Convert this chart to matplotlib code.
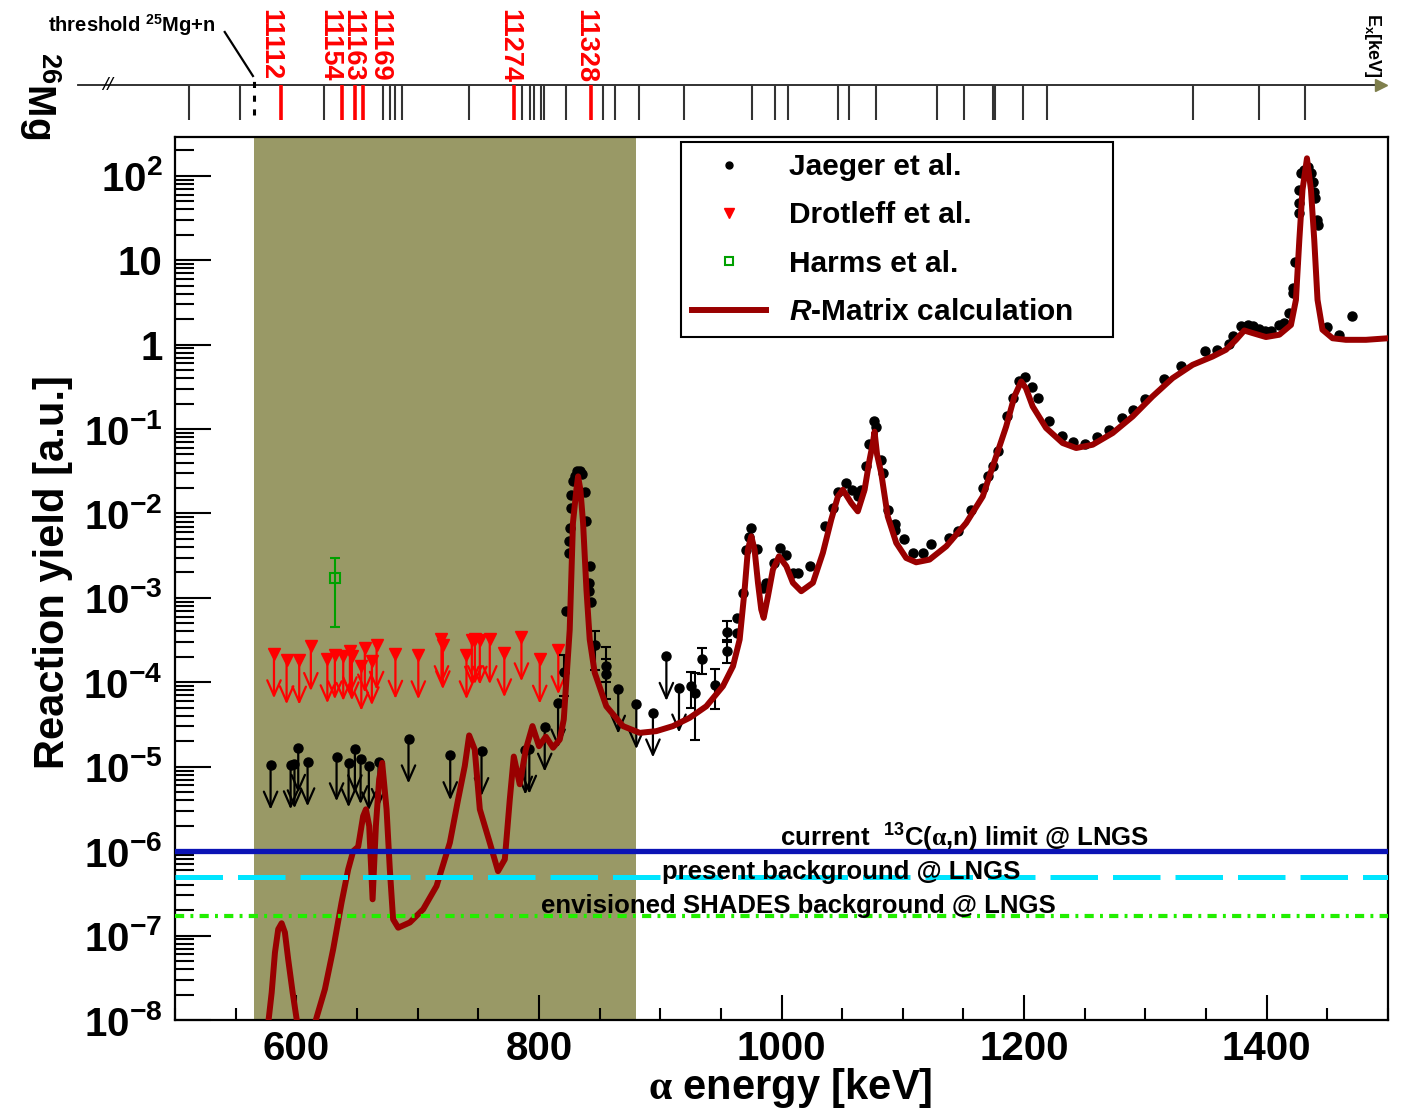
import numpy as np
import matplotlib
matplotlib.use("Agg")
import matplotlib.pyplot as plt
from matplotlib.lines import Line2D
from matplotlib.ticker import FixedLocator, FixedFormatter, MultipleLocator, NullFormatter

plt.rcParams['font.family'] = ['Liberation Sans', 'DejaVu Sans']
plt.rcParams['font.weight'] = 'bold'
plt.rcParams['axes.labelweight'] = 'bold'
plt.rcParams['mathtext.fontset'] = 'custom'
plt.rcParams['mathtext.rm'] = 'Liberation Serif'
plt.rcParams['mathtext.bf'] = 'Liberation Sans:bold'
plt.rcParams['mathtext.it'] = 'Liberation Sans:bold:italic'
plt.rcParams['mathtext.sf'] = 'Liberation Sans:bold'
plt.rcParams['mathtext.default'] = 'bf'

# ---------------- data ----------------
# Jaeger et al. (measured points)
jaeger_E = [822.7, 824.6, 825.0, 825.4, 826.2, 826.8, 828.1, 829.5, 831.8, 833.7, 835.3, 837.8,
            839.2, 841.3, 841.5, 841.9, 842.7,
            963.3, 963.0, 968.2, 970.4, 973.1, 974.5, 979.7, 984.7, 987.5, 993.7, 998.4, 1003.9,
            1009.4, 1013.5, 1023.1, 1035.9, 1042.1, 1046.5, 1052.8, 1058.0, 1062.9, 1065.7,
            1069.9, 1072.0, 1076.0, 1077.5, 1082.2, 1083.5, 1088.2, 1093.6, 1093.2, 1101.4,
            1108.3, 1116.5, 1123.4, 1137.9, 1145.3, 1156.4, 1165.9, 1170.0, 1174.2, 1178.3,
            1185.7, 1190.6, 1196.1, 1201.1, 1206.6, 1211.2, 1220.9, 1231.3, 1240.6, 1250.5,
            1260.2, 1270.3, 1280.4, 1290.1, 1299.7, 1315.0, 1329.4, 1349.4, 1359.0, 1368.6,
            1372.4, 1378.8, 1384.3, 1388.9, 1393.9, 1398.8, 1403.5, 1410.3, 1413.9, 1418.0,
            1421.3, 1421.9, 1423.5, 1426.3, 1426.5, 1426.9, 1428.2, 1431.0, 1433.7, 1436.5,
            1437.8, 1439.2, 1440.0, 1441.1, 1441.9, 1450.1, 1459.2, 1470.2]
jaeger_Y = [7.07e-4, 3.41e-3, 4.68e-3, 6.8e-3, 1.17e-2, 1.67e-2, 2.40e-2, 2.8e-2, 3.15e-2, 3.15e-2,
            2.96e-2, 1.82e-2, 8.15e-3, 1.51e-3, 1.20e-3, 2.37e-3, 9.0e-4,
            5.8e-4, 3.79e-4, 1.15e-3, 3.66e-3, 5.2e-3, 6.7e-3, 3.83e-3, 1.31e-3, 1.51e-3, 2.6e-3,
            3.9e-3, 3.25e-3, 1.98e-3, 1.98e-3, 2.37e-3, 7.2e-3, 1.16e-2, 1.82e-2, 2.30e-2,
            1.91e-2, 1.59e-2, 1.91e-2, 3.68e-2, 6.7e-2, 0.125, 0.106, 4.33e-2, 3.0e-2, 1.11e-2,
            7.6e-3, 6.3e-3, 4.99e-3, 3.40e-3, 3.40e-3, 4.39e-3, 5.13e-3, 6.26e-3, 1.11e-2,
            2.0e-2, 2.75e-2, 3.61e-2, 5.43e-2, 0.141, 0.233, 0.366, 0.412, 0.319, 0.233, 0.123,
            0.0817, 0.0694, 0.0670, 0.0796, 0.0964, 0.135, 0.166, 0.226, 0.391, 0.561, 0.830,
            0.869, 1.02, 1.27, 1.67, 1.70, 1.64, 1.53, 1.47, 1.47, 1.71, 1.82, 2.40, 4.07, 4.66,
            9.6, 36.0, 47.2, 67.9, 107.0, 117.0, 128.0, 107.0, 85.0, 64.8, 54.2, 30.0, 26.2,
            1.61, 1.31, 2.19]

# Jaeger et al. (points with error bars)
jaeger_err_E = [820.5, 846.0, 855.6, 855.6, 925.1, 929.0, 934.7, 944.9, 955.0, 955.0]
jaeger_err_Y = [1.32e-4, 2.75e-4, 1.56e-4, 1.25e-4, 9.0e-5, 7.5e-5, 1.90e-4, 9.4e-5, 3.96e-4, 2.38e-4]
jaeger_err_hi = [2.13e-4, 4.0e-4, 2.6e-4, 1.9e-4, 1.33e-4, 1.3e-4, 2.58e-4, 1.42e-4, 5.3e-4, 3.2e-4]
jaeger_err_lo = [6.8e-5, 1.4e-4, 1.0e-4, 6.3e-5, 5.0e-5, 2.1e-5, 1.24e-4, 4.8e-5, 3.0e-4, 1.71e-4]

# Jaeger et al. (upper limits)
jaeger_lim_E = [578.8, 595.3, 598.5, 601.6, 609.3, 633.2, 643.1, 648.3, 653.0, 659.8, 667.8,
                692.5, 726.9, 752.7, 788.8, 792.1, 804.8, 815.8, 865.4, 880.3, 894.0, 905.1, 915.5]
jaeger_lim_Y = [1.05e-5, 1.06e-5, 1.09e-5, 1.66e-5, 1.15e-5, 1.32e-5, 1.12e-5, 1.64e-5, 1.22e-5,
                1.03e-5, 1.13e-5, 2.15e-5, 1.36e-5, 1.52e-5, 1.58e-5, 1.62e-5, 2.96e-5, 5.72e-5,
                8.33e-5, 5.47e-5, 4.36e-5, 2.04e-4, 8.6e-5]

# Drotleff et al. (upper limits)
drotleff_E = [581.6, 592.0, 602.4, 612.0, 625.6, 631.8, 638.7, 644.2, 645.8, 653.6, 656.5, 662.3,
              666.2, 681.7, 700.6, 719.7, 720.8, 740.3, 744.7, 747.2, 751.3, 759.5, 771.5, 785.6,
              800.7, 816.0]
drotleff_Y = [2.19e-4, 1.86e-4, 1.84e-4, 2.67e-4, 1.91e-4, 2.13e-4, 2.04e-4, 2.38e-4, 2.07e-4,
              1.56e-4, 2.56e-4, 1.81e-4, 2.76e-4, 2.16e-4, 2.13e-4, 3.22e-4, 2.80e-4, 2.13e-4,
              3.17e-4, 3.22e-4, 3.17e-4, 3.22e-4, 2.25e-4, 3.48e-4, 1.89e-4, 2.44e-4]

# Harms et al.
harms_E = [631.8]
harms_Y = [1.74e-3]
harms_hi = [3.0e-3]
harms_lo = [4.46e-4]

# R-Matrix calculation
rmatrix_E = [574.1, 576.9, 579.7, 582.4, 585.1, 587.9, 590.6, 593.3, 597.0, 600.3, 607.1, 616.7,
             623.6, 630.4, 637.3, 642.8, 646.9, 651.0, 655.1, 657.4, 660.1, 662.9, 665.6, 668.3,
             670.8, 674.4, 677.1, 679.8, 684.0, 693.6, 704.6, 715.6, 726.6, 733.4, 738.9, 742.5,
             747.1, 751.3, 759.5, 766.3, 771.9, 776.0, 779.3, 784.2, 789.2, 794.7, 800.1, 805.7,
             811.7, 817.2, 820.5, 823.2, 825.4, 828.1, 830.9, 832.3, 834.2, 836.4, 839.2, 841.9,
             846.0, 855.6, 869.3, 883.1, 896.8, 910.5, 924.3, 938.0, 951.7, 960.0, 965.5, 969.6,
             972.3, 975.1, 977.8, 980.6, 983.3, 985.3, 988.8, 992.9, 997.9, 1004.0, 1009.4,
             1016.3, 1025.9, 1034.1, 1041.0, 1046.5, 1050.6, 1057.5, 1062.9, 1068.5, 1072.6,
             1075.3, 1076.7, 1078.8, 1082.2, 1087.6, 1094.6, 1102.8, 1111.0, 1122.0, 1135.8,
             1152.2, 1165.9, 1171.4, 1185.2, 1192.0, 1197.6, 1201.5, 1207.1, 1218.1, 1231.8,
             1242.9, 1256.5,
             1273.0, 1289.5, 1305.8, 1322.4, 1338.9, 1355.4, 1366.4, 1374.7, 1381.5, 1388.4,
             1399.4, 1410.4, 1420.0, 1424.1, 1426.9, 1429.5, 1433.2, 1436.5, 1439.2, 1441.9,
             1446.0, 1454.3, 1465.3, 1481.8, 1500.0]
rmatrix_Y = [3.4e-9, 9.3e-9, 2.11e-8, 6.29e-8, 1.19e-7, 1.40e-7, 1.09e-7, 5.25e-8, 2.11e-8, 1.02e-8,
             3.4e-9, 1.07e-8, 2.32e-8, 6.89e-8, 2.46e-7, 6.1e-7, 1.00e-6, 1.13e-6, 2.6e-6, 3.13e-6,
             1.98e-6, 2.69e-7, 1.98e-6, 7.08e-6, 1.11e-5, 3.13e-6, 6.1e-7, 1.56e-7, 1.24e-7,
             1.43e-7, 2.05e-7, 3.86e-7, 1.26e-6, 4.1e-6, 1.02e-5, 2.35e-5, 1.60e-5, 3.13e-6,
             1.26e-6, 5.8e-7, 8.0e-7, 4.1e-6, 1.32e-5, 6.2e-6, 1.60e-5, 3.03e-5, 1.75e-5, 2.27e-5,
             1.68e-5, 2.10e-5, 3.63e-5, 1.42e-4, 4.2e-4, 7.8e-3, 1.91e-2, 2.75e-2, 1.91e-2, 7.8e-3,
             1.25e-3, 3.21e-4, 1.30e-4, 5.2e-5, 3.03e-5, 2.52e-5, 2.64e-5, 3.03e-5, 3.80e-5,
             5.2e-5, 9.0e-5, 1.55e-4, 3.21e-4, 1.25e-3, 3.73e-3, 5.36e-3, 3.73e-3, 1.51e-3,
             7.3e-4, 5.8e-4, 1.04e-3, 2.16e-3, 3.11e-3, 2.37e-3, 1.51e-3, 1.20e-3, 1.51e-3,
             3.41e-3, 8.45e-3, 1.59e-2, 1.91e-2, 1.33e-2, 1.06e-2, 1.91e-2, 4.33e-2, 6.8e-2,
             9.3e-2, 4.97e-2, 3.01e-2, 9.2e-3, 4.48e-3, 2.97e-3, 2.64e-3, 2.84e-3, 4.08e-3,
             7.7e-3, 1.59e-2, 2.75e-2, 0.107, 0.243, 0.366, 0.305, 0.185, 0.103, 0.0683,
             0.0596, 0.0652,
             0.0897, 0.141, 0.243, 0.401, 0.576, 0.723, 0.869, 1.14, 1.47, 1.37, 1.23, 1.31,
             1.71, 3.39, 17.4, 67.9, 161.0, 67.9, 17.4, 3.39, 1.50, 1.19, 1.14, 1.14, 1.19]

# Background / sensitivity levels
current_limit = 1.0e-6
present_bkg = 5.0e-7
shades_bkg = 1.7e-7
shade_range = (565.0, 880.0)

# 26Mg level scheme (Ex in keV)
Q_alpha = 10614.78
mass_factor = (21.9914 + 4.0026) / 21.9914
threshold_Ex = 11093.0
levels_red = [11112, 11154, 11163, 11169, 11274, 11328]
levels_black = [11047.8, 11083.4, 11141.6, 11183, 11188, 11191, 11196.3, 11243, 11280, 11285.3,
                11288.2, 11293.1, 11295.5, 11310.6, 11336.5, 11344.4, 11361.5, 11392.6, 11440,
                11456, 11465, 11500, 11508, 11527, 11569, 11588, 11608, 11610, 11629, 11646,
                11748, 11794, 11826]
label_offsets = [-9, -10.5, -1.5, 13.5, -4, -5]

x_ticks = [600, 800, 1000, 1200, 1400]
y_ticks = [1e-8, 1e-7, 1e-6, 1e-5, 1e-4, 1e-3, 1e-2, 1e-1, 1, 10, 100]
y_ticklabels = [r'$10^{-8}$', r'$10^{-7}$', r'$10^{-6}$', r'$10^{-5}$', r'$10^{-4}$',
                r'$10^{-3}$', r'$10^{-2}$', r'$10^{-1}$', '1', '10', r'$10^{2}$']

def ex_to_ealpha(ex):
    return (np.asarray(ex, dtype=float) - Q_alpha) * mass_factor

# ---------------- figure ----------------
fig = plt.figure(figsize=(14.08, 11.13), dpi=100)
L, W = 175 / 1408, 1213 / 1408
ax = fig.add_axes([L, 93 / 1113, W, 883 / 1113])
ax.set_yscale('log')
ax.set_xlim(500, 1500)
ax.set_ylim(1e-8, 288)

ax.axvspan(*shade_range, color='#999966', lw=0, zorder=0)

ARROW_F = 10 ** 0.53
arrow_kw = dict(arrowstyle='->,head_length=0.5,head_width=0.22', lw=1.6,
                shrinkA=0, shrinkB=0, mutation_scale=22)

# Drotleff upper limits
for e, y in zip(drotleff_E, drotleff_Y):
    ax.annotate('', xy=(e, y / ARROW_F), xytext=(e, y),
                arrowprops=dict(color='red', **arrow_kw), zorder=4)
ax.plot(drotleff_E, drotleff_Y, ls='none', marker='v', color='red', ms=9, zorder=5)

# Jaeger upper limits
for e, y in zip(jaeger_lim_E, jaeger_lim_Y):
    ax.annotate('', xy=(e, y / ARROW_F), xytext=(e, y),
                arrowprops=dict(color='black', **arrow_kw), zorder=4)
ax.plot(jaeger_lim_E, jaeger_lim_Y, ls='none', marker='o', color='black', ms=6.5, zorder=5)

# Jaeger data
je = np.array(jaeger_err_Y)
ax.errorbar(jaeger_err_E, jaeger_err_Y,
            yerr=[je - np.array(jaeger_err_lo), np.array(jaeger_err_hi) - je],
            fmt='o', color='black', ms=6.5, capsize=3.5, elinewidth=1.5, capthick=1.5, zorder=5)
ax.plot(jaeger_E, jaeger_Y, ls='none', marker='o', color='black', ms=6.5, zorder=5)

# Harms
hy = np.array(harms_Y)
ax.errorbar(harms_E, harms_Y, yerr=[hy - np.array(harms_lo), np.array(harms_hi) - hy],
            fmt='s', mfc='none', mec='#00a000', color='#00a000', ms=7, mew=1.5,
            capsize=3.5, elinewidth=1.5, capthick=1.5, zorder=5)

# R-matrix
ax.plot(rmatrix_E, rmatrix_Y, color='#990000', lw=4.3, zorder=6, solid_joinstyle='round')

# horizontal limits
ax.axhline(current_limit, color='#0b13b5', lw=3.8, zorder=7)
ax.axhline(present_bkg, color='#00e5ff', lw=3.6, ls=(0, (9.5, 3.0)), zorder=7)
ax.axhline(shades_bkg, color='#22ee00', lw=3.0, ls=(0, (2.2, 1.5, 0.7, 1.5)), zorder=7)

ax.text(0.651, 0.206, r'current  $^{13}$C($\mathrm{\alpha}$,n) limit @ LNGS', transform=ax.transAxes,
        ha='center', va='center', fontsize=18.5, zorder=10)
ax.text(0.549, 0.168, 'present background @ LNGS', transform=ax.transAxes,
        ha='center', va='center', fontsize=18.5, zorder=10)
ax.text(0.514, 0.129, 'envisioned SHADES background @ LNGS', transform=ax.transAxes,
        ha='center', va='center', fontsize=18.5, zorder=10)

# axes styling
for s in ax.spines.values():
    s.set_linewidth(1.6)
ax.xaxis.set_major_locator(FixedLocator(x_ticks))
ax.xaxis.set_minor_locator(MultipleLocator(50))
ax.yaxis.set_major_locator(FixedLocator(y_ticks))
ax.yaxis.set_major_formatter(FixedFormatter(y_ticklabels))
minor_y = [m * 10.0 ** k for k in range(-8, 3) for m in range(2, 10)]
ax.yaxis.set_minor_locator(FixedLocator(minor_y))
ax.yaxis.set_minor_formatter(NullFormatter())
ax.tick_params(axis='x', which='major', direction='in', length=18, width=1.5,
               labelsize=29, pad=7, top=False)
ax.tick_params(axis='x', which='minor', direction='in', length=9, width=1.5, top=False)
ax.tick_params(axis='y', which='major', direction='in', length=26, width=1.5,
               labelsize=29, pad=9, right=False)
ax.tick_params(axis='y', which='minor', direction='in', length=14, width=1.5, right=False)
for lab in ax.get_xticklabels() + ax.get_yticklabels():
    lab.set_fontweight('bold')

ax.set_xlabel(r'$\mathrm{\alpha}$ energy [keV]', fontsize=30)
ax.xaxis.set_label_coords(0.507, -0.052)
ax.set_ylabel('Reaction yield [a.u.]', fontsize=30)
ax.yaxis.set_label_coords(-0.084, 0.507)

# legend
handles = [Line2D([], [], ls='none', marker='o', color='black', ms=5),
           Line2D([], [], ls='none', marker='v', color='red', ms=7),
           Line2D([], [], ls='none', marker='s', mfc='none', mec='#00a000', ms=6, mew=1.5),
           Line2D([], [], color='#990000', lw=4.3)]
labels = ['Jaeger et al.', 'Drotleff et al.', 'Harms et al.', r'$\mathit{R}$-Matrix calculation']
leg = ax.legend(handles, labels, loc='upper left', bbox_to_anchor=(0.417, 0.994, 0.356, 0.0),
                mode='expand', fontsize=21.5, frameon=True, fancybox=False, edgecolor='black',
                handlelength=2.5, handletextpad=0.75, labelspacing=0.68, borderpad=0.36,
                borderaxespad=0.0, framealpha=1.0)
leg.get_frame().set_linewidth(1.5)
leg.set_zorder(20)

# ---------------- level scheme strip ----------------
axt = fig.add_axes([L, 976 / 1113, W, 137 / 1113])
axt.set_xlim(500, 1500)
axt.set_ylim(0, 137)
axt.axis('off')

axt.plot([420, 1492], [52, 52], color='#222222', lw=1.3, clip_on=False)
axt.plot([1494.5], [52], marker='>', color='#7f7f4c', ms=9, clip_on=False)
axt.text(444, 52, '//', ha='center', va='center', fontsize=14, fontweight='normal',
         style='italic', clip_on=False)
axt.vlines(ex_to_ealpha(levels_black), 17, 52, color='#333333', lw=1.5)
axt.vlines(ex_to_ealpha(levels_red), 17, 52, color='red', lw=2.6)
thr = float(ex_to_ealpha(threshold_Ex))
axt.plot([thr, thr], [22, 61], color='black', lw=2.2, ls=(0, (2.0, 2.5)))
axt.plot([541, thr - 1.0], [105, 61], color='black', lw=1.6, clip_on=False)
for ex, off in zip(levels_red, label_offsets):
    axt.text(float(ex_to_ealpha(ex)) + off, 128, str(ex), rotation=270, ha='center', va='top',
             color='red', fontsize=19.5, fontweight='bold')

fig.text(132 / 1408, 1 - 25 / 1113, r'threshold $^{25}$Mg+n', ha='center', va='center',
         fontsize=14.5)
fig.text(40 / 1408, 1 - 96 / 1113, r'$^{26}$Mg', rotation=270, ha='center', va='center',
         fontsize=28)
fig.text(1372 / 1408, 1 - 45 / 1113, r'E$_{\mathbf{x}}$[keV]', rotation=270, ha='center',
         va='center', fontsize=13)

fig.savefig('out.png', dpi=100, facecolor='white')
